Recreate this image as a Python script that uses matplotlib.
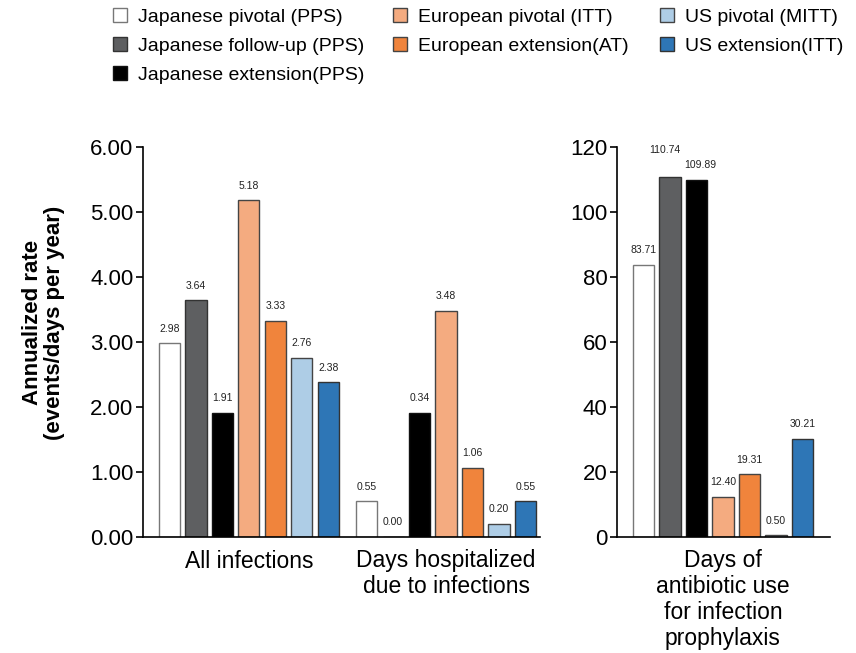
import numpy as np
import matplotlib.pyplot as plt
from matplotlib.patches import Patch

plt.rcParams.update({
    'font.family': ['Liberation Sans', 'DejaVu Sans'],
    'axes.linewidth': 1.2,
})

# data
series = ['Japanese pivotal (PPS)', 'Japanese follow-up (PPS)', 'Japanese extension(PPS)',
          'European pivotal (ITT)', 'European extension(AT)', 'US pivotal (MITT)', 'US extension(ITT)']
colors = ['#ffffff', '#5e5f61', '#000000', '#f4ab80', '#f0843c', '#aecde6', '#2e76b6']
edges = ['#777777', '#333333', '#111111', '#444444', '#444444', '#444444', '#333333']

left_groups = ['All infections', 'Days hospitalized\ndue to infections']
all_inf = [2.98, 3.64, 1.91, 5.18, 3.33, 2.76, 2.38]
all_inf_lbl = ['2.98', '3.64', '1.91', '5.18', '3.33', '2.76', '2.38']
hosp = [0.55, 0.00, 1.91, 3.48, 1.06, 0.20, 0.55]
hosp_lbl = ['0.55', '0.00', '0.34', '3.48', '1.06', '0.20', '0.55']

right_group = 'Days of\nantibiotic use\nfor infection\nprophylaxis'
abx = [83.71, 110.74, 109.89, 12.40, 19.31, 0.50, 30.21]
abx_lbl = ['83.71', '110.74', '109.89', '12.40', '19.31', '0.50', '30.21']

fig = plt.figure(figsize=(8.56, 6.53), dpi=100)
ax1 = fig.add_axes([143 / 856, 116 / 653, 397 / 856, 390 / 653])
ax2 = fig.add_axes([617 / 856, 116 / 653, 213 / 856, 390 / 653])

w = 0.8
idx = np.arange(7)


def draw(ax, x0, vals, lbls, nudge=None):
    nudge = nudge or {}
    xs = x0 + idx
    ax.bar(xs, vals, width=w, color=colors, edgecolor=edges, linewidth=1.0)
    for i, (x, v, s) in enumerate(zip(xs, vals, lbls)):
        dx, dy = nudge.get(i, (0, 0))
        ax.annotate(s, (x, v), xytext=(dx, 7 + dy), textcoords='offset points',
                    ha='center', va='bottom', fontsize=7.5, color='#222222')
    return xs.mean()


c1 = draw(ax1, 1.0, all_inf, all_inf_lbl)
c2 = draw(ax1, 8.45, hosp, hosp_lbl)
# the two tall labels in the right panel are staggered in the original
c3 = draw(ax2, 1.0, abx, abx_lbl, nudge={1: (-4, 9), 2: (3, 0)})

ax1.set_xlim(0, 15)
ax1.set_ylim(0, 6)
ax1.set_yticks(np.arange(0, 6.01, 1.0))
ax1.set_yticklabels([f'{v:.2f}' for v in np.arange(0, 6.01, 1.0)])
ax1.set_xticks([c1, c2])
ax1.set_xticklabels(left_groups, linespacing=1.15)

ax2.set_xlim(0, 8.04)
ax2.set_ylim(0, 120)
ax2.set_yticks(np.arange(0, 121, 20))
ax2.set_xticks([c3])
ax2.set_xticklabels([right_group], linespacing=1.15)

for ax in (ax1, ax2):
    ax.spines['top'].set_visible(False)
    ax.spines['right'].set_visible(False)
    ax.tick_params(axis='y', labelsize=16, length=5, width=1.2, direction='out', pad=2)
    ax.tick_params(axis='x', labelsize=16.5, length=0, pad=9)

ax1.set_ylabel('Annualized rate\n(events/days per year)', fontsize=16,
               fontweight='bold', labelpad=18, linespacing=1.05, y=0.55)

# legend: three separate columns, placed like the original
handles = [Patch(facecolor=c, edgecolor=e, linewidth=1.0) for c, e in zip(colors, edges)]
col_x = [113, 393, 660]
col_items = [(0, 3), (3, 5), (5, 7)]
for xpix, (a, b) in zip(col_x, col_items):
    leg = fig.legend(handles[a:b], series[a:b], loc='upper left',
                     bbox_to_anchor=(xpix / 856, 1 - 8 / 653),
                     frameon=False, fontsize=14, handlelength=0.72, handleheight=0.72,
                     handletextpad=0.57, labelspacing=0.58,
                     borderpad=0, borderaxespad=0)

fig.savefig('out.png', dpi=100)
